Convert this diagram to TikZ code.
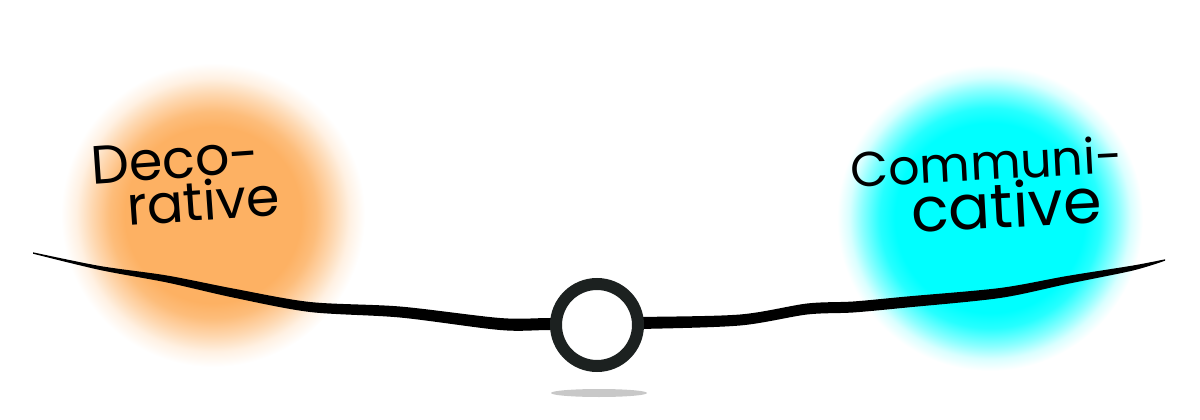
\documentclass[tikz,border=0pt]{standalone}
\usepackage{fontspec}
\setmainfont{Poppins}
\definecolor{glowO}{HTML}{FDB163}
\definecolor{glowC}{HTML}{00FFFF}
\definecolor{ringC}{HTML}{1C2120}
\definecolor{shadowC}{HTML}{C8C8C8}
\pgfdeclareradialshading{orangeglow}{\pgfpoint{0bp}{0bp}}{color(0bp)=(glowO); color(14.5bp)=(glowO); color(17bp)=(glowO!85!white); color(20bp)=(glowO!50!white); color(22.5bp)=(glowO!18!white); color(25bp)=(white); color(50bp)=(white)}
\pgfdeclareradialshading{cyanglow}{\pgfpoint{0bp}{0bp}}{color(0bp)=(glowC); color(15.5bp)=(glowC); color(18bp)=(glowC!85!white); color(21bp)=(glowC!45!white); color(23bp)=(glowC!15!white); color(25bp)=(white); color(50bp)=(white)}
\begin{document}
\begin{tikzpicture}[x=1pt,y=-1pt,
  lbl/.style={text=black, inner sep=0pt, anchor=base west, align=left},
  ballstyle/.style={circle, draw=ringC, line width=12pt, fill=white, minimum size=82pt, inner sep=0pt}]
\useasboundingbox (0,0) rectangle (1200,420);
% glows
\path[shading=orangeglow] (213,215) circle[radius=152pt];
\path[shading=cyanglow] (990,218) circle[radius=153pt];
% beam
\fill[black] plot[smooth, tension=0.5] coordinates {(33,252.3) (100,266) (167,275.5) (233,288.5) (310,302) (400,306.5) (500,318) (550,318) (640,317) (740,314.5) (807,303.5) (853,301.5) (907,296.5) (1000,288) (1067,276) (1133,265.5) (1165,259.3)}
  -- plot[smooth, tension=0.5] coordinates {(1165,260.7) (1133,270.5) (1067,284) (1000,298) (907,307.5) (853,312.5) (807,314.5) (740,325.5) (640,329) (550,330) (500,330) (400,317.5) (310,312) (233,297.5) (167,282.5) (100,270) (33,253.7)} -- cycle;
% shadow
\fill[shadowC] (599,393) ellipse [x radius=48pt, y radius=4pt];
% fulcrum ball
\node[ballstyle] (ball) at (597,325) {};
% labels
\node[lbl, rotate=4, font=\fontsize{54}{44}\selectfont] (deco) at (95,228) {Deco-\\\hspace*{33pt}rative};
\node[lbl, rotate=3, font=\fontsize{49}{49}\selectfont] (communi) at (854,236) {Communi-\\\hspace*{58pt}\fontsize{62}{49}\selectfont cative};
\end{tikzpicture}
\end{document}
